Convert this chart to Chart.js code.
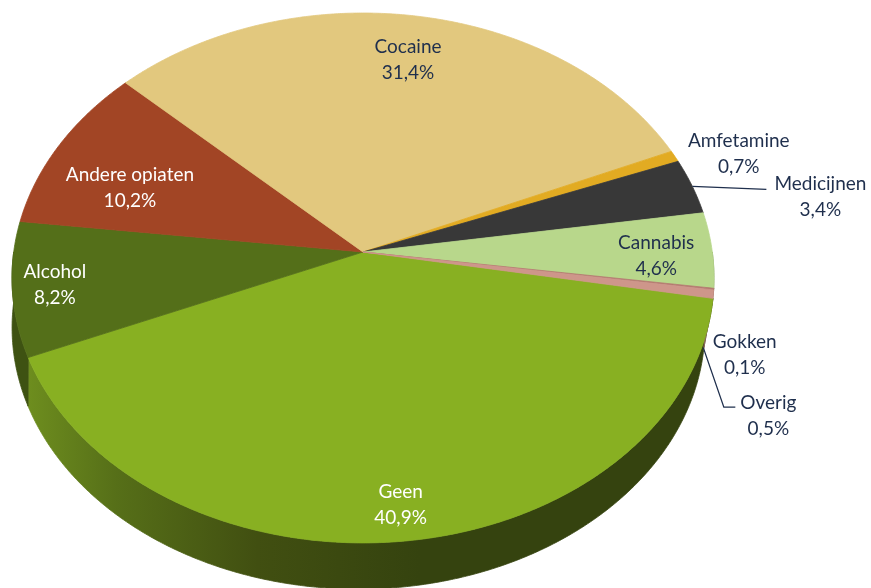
<!DOCTYPE html>
<html>
<head>
<meta charset="utf-8">
<script src="https://cdn.jsdelivr.net/npm/chart.js@4.4.1/dist/chart.umd.min.js"></script>
<style>
  html, body { margin: 0; padding: 0; background: #ffffff; overflow: hidden; }
  #wrap { position: relative; width: 871px; height: 588px; }
</style>
</head>
<body>
<div id="wrap"><canvas id="c"></canvas></div>
<script>
// Primary problem reported at intake (share of clients, %)
const categories = ['Geen', 'Alcohol', 'Andere opiaten', 'Cocaine', 'Amfetamine', 'Medicijnen', 'Cannabis', 'Gokken', 'Overig'];
const shares = [40.9, 8.2, 10.2, 31.4, 0.7, 3.4, 4.6, 0.1, 0.5];

// Face colours and the darker tone used for the rim of each slice
const topColors  = ['#88B022', '#546F19', '#A24525', '#E2C87E', '#E2AB22', '#383838', '#B8D78B', '#B47A70', '#CE968A'];
const sideColors = ['#3A4B10', '#3E5212', '#6E2E18', '#9C8852', '#9C7515', '#222222', '#7E9460', '#7A534C', '#8E675F'];
const textColors = ['#FFFFFF', '#FFFFFF', '#FFFFFF', '#1F2F4D', '#1F2F4D', '#1F2F4D', '#1F2F4D', '#1F2F4D', '#1F2F4D'];

// Label placement: radial fraction (plus a small nudge) for labels on the slice,
// offsets from the slice edge for labels outside
const insideRadius = [0.885, 0.88, 0.72, 0.80, null, null, 0.84, null, null];
const insideNudge  = { 2: [-12, 14], 6: [0, 6] };
const outsideOffset = { 4: [64, -2], 5: [128, 10], 7: [31, 66], 8: [55, 122] };

const FONT = '19px Lato, "Open Sans", sans-serif';
const LINE_GAP = 26;

// Tilted-disc projection: apex of the pie, radii, perspective factor and rim depth
const GEO = { x0: 363, y0: 252, a: 349.3, b: 262.4, k: 0.098, f: 0.987, dxb: -4.5, depth: 50 };

function proj(theta, r, level) {
  const u = r * Math.cos(theta), v = r * Math.sin(theta);
  const s = 1 / (1 - GEO.k * v);
  if (level === 0) return [GEO.x0 + GEO.a * u * s, GEO.y0 + GEO.b * v * s];
  return [GEO.x0 + GEO.dxb + GEO.f * GEO.a * u * s, GEO.y0 + GEO.depth + GEO.f * GEO.b * v * s];
}

function arcPoints(s, e, level) {
  const pts = [];
  const n = Math.max(2, Math.ceil((e - s) / 0.006));
  for (let j = 0; j <= n; j++) pts.push(proj(s + (e - s) * j / n, 1, level));
  return pts;
}

function fmt(v) { return v.toFixed(1).replace('.', ',') + '%'; }

function sideFill(ctx, i) {
  if (i !== 0) return sideColors[i];
  const g = ctx.createLinearGradient(15, 0, 420, 0);
  g.addColorStop(0, '#71921F');
  g.addColorStop(0.25, '#566F18');
  g.addColorStop(0.6, '#414F11');
  g.addColorStop(1, '#35430F');
  return g;
}

const pie3d = {
  id: 'pie3d',
  beforeDatasetsDraw(chart) {
    const ctx = chart.ctx;
    const arcs = chart.getDatasetMeta(0).data;
    const angles = arcs.map(a => a.getProps(['startAngle', 'endAngle'], true));

    ctx.save();
    // rim: only the front half of the disc (0..π, plus the wrapped turn) is visible
    angles.forEach((ang, i) => {
      [0, 2 * Math.PI].forEach(off => {
        const s = Math.max(ang.startAngle, off), e = Math.min(ang.endAngle, off + Math.PI);
        if (e <= s) return;
        const top = arcPoints(s, e, 0), bot = arcPoints(s, e, 1).reverse();
        ctx.beginPath();
        top.concat(bot).forEach((p, j) => j ? ctx.lineTo(p[0], p[1]) : ctx.moveTo(p[0], p[1]));
        ctx.closePath();
        const fill = sideFill(ctx, i);
        ctx.fillStyle = fill; ctx.strokeStyle = fill; ctx.lineWidth = 0.8;
        ctx.fill(); ctx.stroke();
      });
    });

    // top faces
    const apex = proj(0, 0, 0);
    angles.forEach((ang, i) => {
      ctx.beginPath();
      ctx.moveTo(apex[0], apex[1]);
      arcPoints(ang.startAngle, ang.endAngle, 0).forEach(p => ctx.lineTo(p[0], p[1]));
      ctx.closePath();
      ctx.fillStyle = topColors[i]; ctx.strokeStyle = topColors[i]; ctx.lineWidth = 0.8;
      ctx.fill(); ctx.stroke();
    });

    // labels
    ctx.font = FONT;
    ctx.textAlign = 'center';
    ctx.textBaseline = 'middle';
    ctx.strokeStyle = '#1F2F4D';
    ctx.lineWidth = 1.3;
    angles.forEach((ang, i) => {
      const mid = (ang.startAngle + ang.endAngle) / 2;
      let c;
      if (insideRadius[i] !== null) {
        c = proj(mid, insideRadius[i], 0);
        const n = insideNudge[i];
        if (n) c = [c[0] + n[0], c[1] + n[1]];
      } else {
        const edge = proj(mid, 1, 0), o = outsideOffset[i];
        c = [edge[0] + o[0], edge[1] + o[1]];
        if (i === 5) {
          ctx.beginPath();
          ctx.moveTo(edge[0], edge[1]);
          ctx.lineTo(c[0] - 54, c[1] - 7);
          ctx.stroke();
        } else if (i === 8) {
          const base = proj(mid, 1, 1);
          ctx.beginPath();
          ctx.moveTo(base[0] - 1, base[1] + 4);
          ctx.lineTo(c[0] - 44.5, c[1] - 9);
          ctx.lineTo(c[0] - 33, c[1] - 9);
          ctx.stroke();
        }
      }
      ctx.fillStyle = textColors[i];
      ctx.fillText(categories[i], c[0], c[1] - LINE_GAP / 2);
      ctx.fillText(fmt(shares[i]), c[0], c[1] + LINE_GAP / 2);
    });
    ctx.restore();
    return false;
  }
};

new Chart(document.getElementById('c'), {
  type: 'pie',
  data: {
    labels: categories,
    datasets: [{ data: shares, backgroundColor: topColors, borderWidth: 0 }]
  },
  options: {
    responsive: true,
    maintainAspectRatio: false,
    animation: false,
    rotation: 100,
    layout: { padding: 0 },
    plugins: { legend: { display: false }, tooltip: { enabled: false } }
  },
  plugins: [pie3d]
});
</script>
</body>
</html>
